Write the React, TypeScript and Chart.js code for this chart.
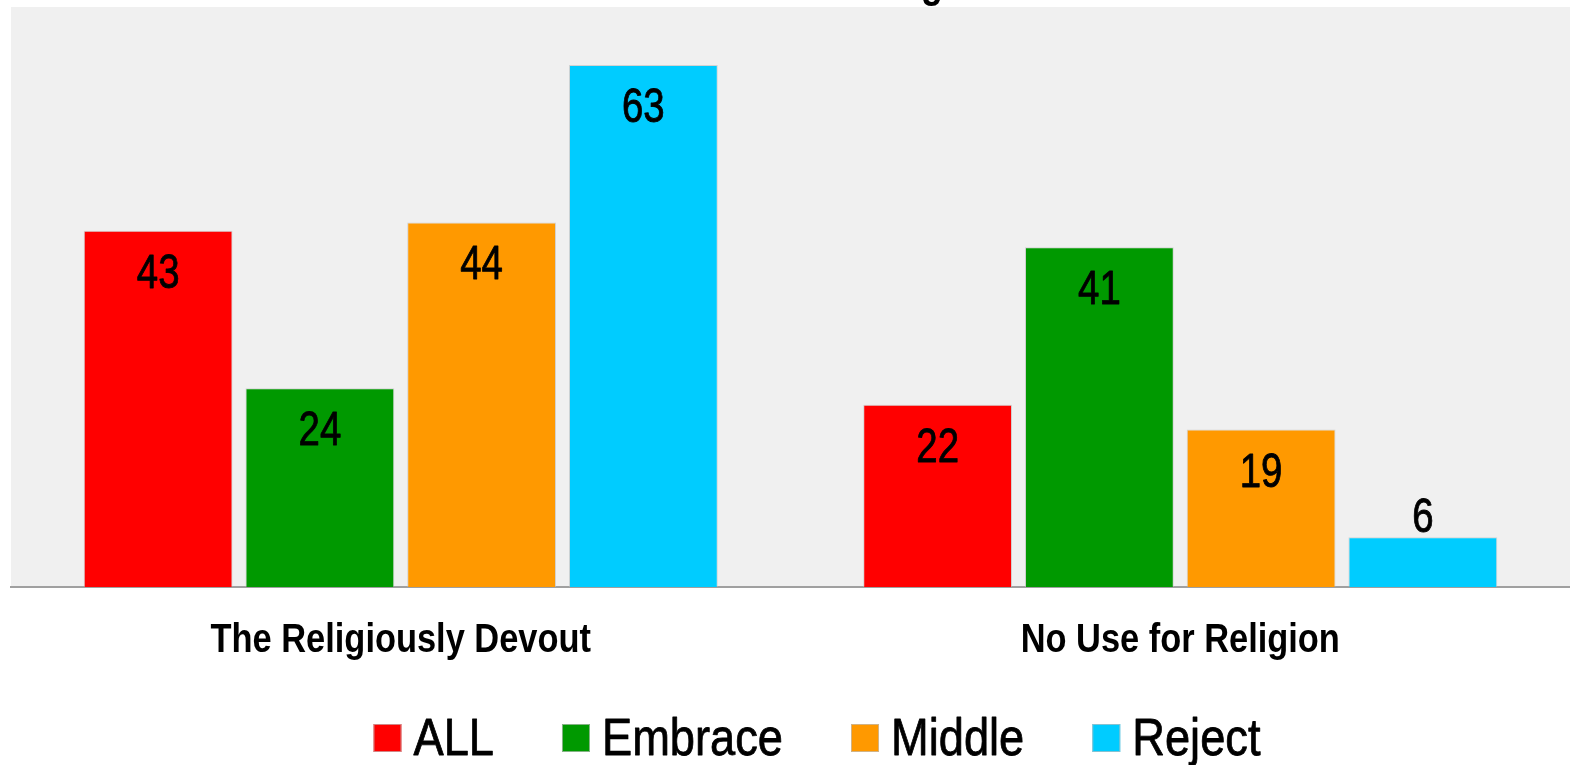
import React, { useEffect, useRef } from "react";
import { Chart, registerables } from "chart.js";

Chart.register(...registerables);

// Data
const categories = ["The Religiously Devout", "No Use for Religion"];
const seriesNames = ["ALL", "Embrace", "Middle", "Reject"];
const allValues = [43, 22];
const embraceValues = [24, 41];
const middleValues = [44, 19];
const rejectValues = [63, 6];
const seriesColors = ["#ff0000", "#009900", "#ff9900", "#00ccff"];
const yMin = 0;
const yMax = 70;
const titleText = "Attitude Toward Religion";

const FONT = '"Liberation Sans", Arial, sans-serif';
const WIDTH = 1570;
const TOP_HIDDEN = 60;
const HEIGHT = 765 + TOP_HIDDEN;

// Draw text horizontally condensed (narrow face look), optionally thickened
function narrowText(
  ctx: CanvasRenderingContext2D,
  text: string,
  x: number,
  y: number,
  font: string,
  scaleX: number,
  align: "left" | "center",
  weightStroke = 0
) {
  ctx.save();
  ctx.font = font;
  ctx.textBaseline = "alphabetic";
  ctx.textAlign = "left";
  const w = ctx.measureText(text).width * scaleX;
  const left = align === "center" ? x - w / 2 : x;
  ctx.translate(left, y);
  ctx.scale(scaleX, 1);
  ctx.fillText(text, 0, 0);
  if (weightStroke > 0) {
    ctx.strokeStyle = ctx.fillStyle as string;
    ctx.lineWidth = weightStroke;
    ctx.lineJoin = "round";
    ctx.strokeText(text, 0, 0);
  }
  ctx.restore();
  return w;
}

function narrowWidth(ctx: CanvasRenderingContext2D, text: string, font: string, scaleX: number) {
  ctx.save();
  ctx.font = font;
  const w = ctx.measureText(text).width * scaleX;
  ctx.restore();
  return w;
}

// Light grey panel behind the plot area
const plotBackground = {
  id: "plotBackground",
  beforeDraw(chart: any) {
    const { ctx, chartArea } = chart;
    ctx.save();
    ctx.fillStyle = "#f0f0f0";
    ctx.fillRect(chartArea.left, chartArea.top, chartArea.right - chartArea.left, chartArea.bottom - chartArea.top);
    ctx.restore();
  },
};

// Value labels: inside the bar near its top, or above short bars
const valueLabels = {
  id: "valueLabels",
  afterDatasetsDraw(chart: any) {
    const ctx = chart.ctx;
    ctx.save();
    ctx.fillStyle = "#000";
    chart.data.datasets.forEach((ds: any, di: number) => {
      const meta = chart.getDatasetMeta(di);
      meta.data.forEach((bar: any, i: number) => {
        const v = ds.data[i];
        const { x, y, base } = bar.getProps(["x", "y", "base"], true);
        const h = base - y;
        const by = h > 80 ? y + 57 : y - 5;
        narrowText(ctx, String(v), x, by, `48px ${FONT}`, 0.8, "center", 0.9);
      });
    });
    ctx.restore();
  },
};

// Title, category labels and legend
const textLayer = {
  id: "textLayer",
  afterDraw(chart: any) {
    const ctx = chart.ctx;
    const xScale = chart.scales.x;
    ctx.save();
    ctx.fillStyle = "#000";

    // title (sits mostly above the visible page)
    narrowText(ctx, titleText, WIDTH / 2, TOP_HIDDEN - 3, `bold 44px ${FONT}`, 0.82, "center");

    // category labels under the axis
    const catY = chart.chartArea.bottom + 65;
    categories.forEach((c, i) => {
      ctx.fillStyle = "#000";
      narrowText(ctx, c, xScale.getPixelForValue(i), catY, `bold 40px ${FONT}`, 0.86, "center");
    });

    // legend row
    const box = 28;
    const textGap = 12;
    const itemGap = 68;
    const centerX = 817;
    const boxTop = HEIGHT - 41;
    const baseline = HEIGHT - 10;
    const legendFont = `52px ${FONT}`;
    const scaleX = 0.87;
    const items = chart.data.datasets.map((ds: any) => ({
      label: ds.label,
      color: ds.backgroundColor,
      w: narrowWidth(ctx, ds.label, legendFont, scaleX),
    }));
    const total =
      items.reduce((s: number, it: any) => s + box + textGap + it.w, 0) + itemGap * (items.length - 1);
    let x = centerX - total / 2;
    items.forEach((it: any) => {
      ctx.fillStyle = it.color;
      ctx.fillRect(x, boxTop, box, box);
      ctx.strokeStyle = "rgba(190,190,190,0.7)";
      ctx.lineWidth = 1;
      ctx.strokeRect(x + 0.5, boxTop + 0.5, box - 1, box - 1);
      ctx.fillStyle = "#000";
      narrowText(ctx, it.label, x + box + textGap, baseline, legendFont, scaleX, "left", 0.8);
      x += box + textGap + it.w + itemGap;
    });
    ctx.restore();
  },
};

export default function App() {
  const canvasRef = useRef<HTMLCanvasElement | null>(null);

  useEffect(() => {
    if (!canvasRef.current) return;
    const seriesValues = [allValues, embraceValues, middleValues, rejectValues];
    const chart = new Chart(canvasRef.current, {
      type: "bar",
      data: {
        labels: categories,
        datasets: seriesNames.map((name, i) => ({
          label: name,
          data: seriesValues[i],
          backgroundColor: seriesColors[i],
          borderColor: "rgba(190,190,190,0.6)",
          borderWidth: 1,
          categoryPercentage: 0.83,
          barPercentage: 0.92,
        })),
      },
      options: {
        responsive: false,
        animation: false,
        devicePixelRatio: 1,
        layout: { padding: { left: 11, right: 0, top: TOP_HIDDEN + 7, bottom: 170 } },
        plugins: {
          legend: { display: false },
          tooltip: { enabled: false },
          title: { display: false },
        },
        scales: {
          x: {
            grid: { display: false },
            border: { display: true, color: "#a0a0a0", width: 2 },
            ticks: { display: false },
          },
          y: { display: false, min: yMin, max: yMax },
        },
      },
      plugins: [plotBackground, valueLabels, textLayer],
    });
    return () => chart.destroy();
  }, []);

  return (
    <div style={{ position: "fixed", left: 0, top: -TOP_HIDDEN, width: WIDTH, height: HEIGHT }}>
      <canvas ref={canvasRef} width={WIDTH} height={HEIGHT} style={{ display: "block" }} />
    </div>
  );
}
